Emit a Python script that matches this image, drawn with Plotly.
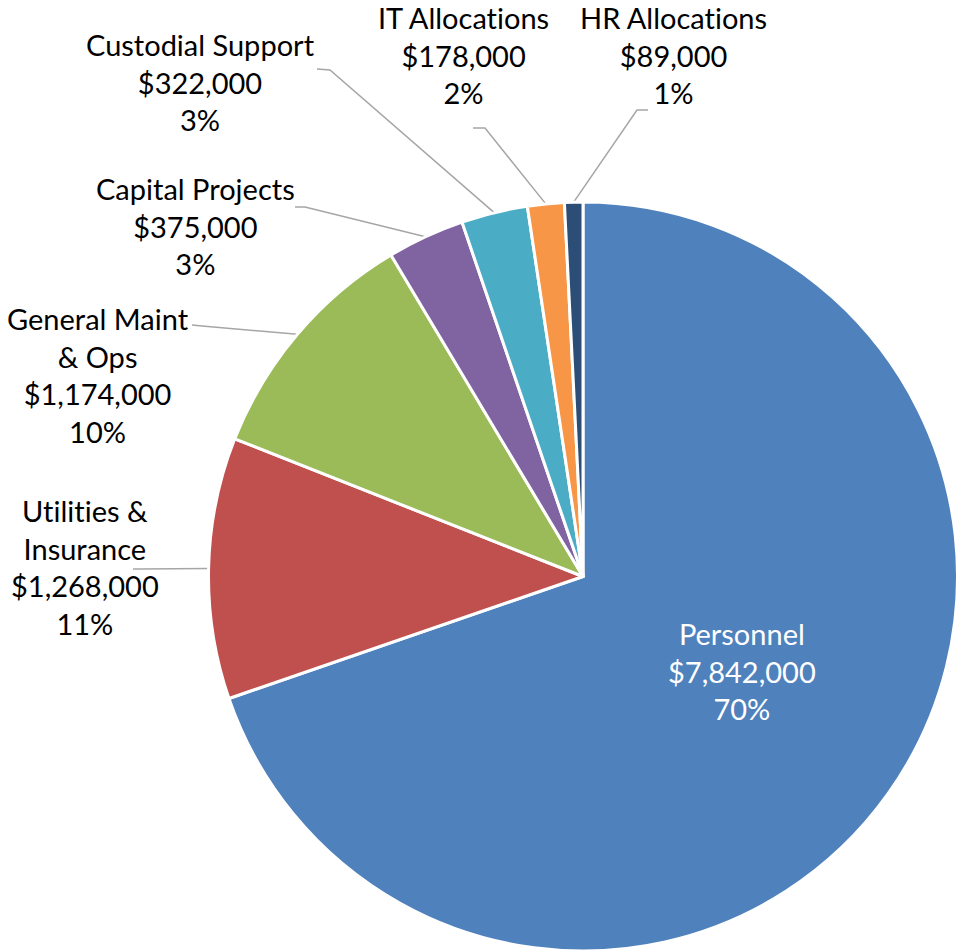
import numpy as np
import plotly.graph_objects as go

# ---- data ----
categories = ["Personnel", "Utilities & Insurance", "General Maint & Ops",
              "Capital Projects", "Custodial Support", "IT Allocations", "HR Allocations"]
label_text = ["Personnel", "Utilities &<br>Insurance", "General Maint<br>& Ops",
              "Capital Projects", "Custodial Support", "IT Allocations", "HR Allocations"]
values = [7842000, 1268000, 1174000, 375000, 322000, 178000, 89000]
colors = ["#4F81BD", "#C0504D", "#9BBB59", "#8064A2", "#4BACC6", "#F79646", "#2C4D75"]

# ---- layout constants (pixels) ----
W, H = 959, 951
CX, CY, R = 583, 577, 375
FONT = "Lato, Calibri, Carlito, sans-serif"
FS = 29

# label block centres
label_pos = {
    "Personnel": (742, 671),
    "Utilities & Insurance": (85, 567),
    "General Maint & Ops": (98, 375),
    "Capital Projects": (195, 226),
    "Custodial Support": (200, 82),
    "IT Allocations": (463, 55),
    "HR Allocations": (673, 55),
}
# leader line outer points (start, elbow); end point is computed from slice mid-angle
leader = {
    "Utilities & Insurance": [(133, 569), (140, 569)],
    "General Maint & Ops": [(192, 325), (202, 326)],
    "Capital Projects": [(295, 207), (305, 207)],
    "Custodial Support": [(317, 69), (330, 70)],
    "IT Allocations": [(473, 128), (485, 128)],
    "HR Allocations": [(648, 110), (637, 110)],
}

total = sum(values)
fracs = np.array(values) / total
cum = np.concatenate([[0], np.cumsum(fracs)])
mid_deg = (cum[:-1] + cum[1:]) / 2 * 360.0  # clockwise from 12 o'clock


def px(x, y):
    return x / W, 1 - y / H


def no_lig(s):
    # break the Lato "ti" ligature so text looks like the reference
    return s.replace("ti", "t\u200ci")


fig = go.Figure()
fig.add_trace(go.Pie(
    labels=categories,
    values=values,
    sort=False,
    direction="clockwise",
    rotation=0,
    marker=dict(colors=colors, line=dict(color="white", width=3)),
    textinfo="none",
    hoverinfo="skip",
    showlegend=False,
    domain=dict(x=[(CX - R) / W, min(1, (CX + R) / W)],
                y=[max(0, (H - CY - R) / H), (H - CY + R) / H]),
))

shapes = []
annotations = []
for i, cat in enumerate(categories):
    pct = round(fracs[i] * 100)
    txt = f"{no_lig(label_text[i])}<br>${values[i]:,}<br>{pct}%"
    lx, ly = label_pos[cat]
    ax, ay = px(lx, ly)
    annotations.append(dict(
        x=ax, y=ay, xref="paper", yref="paper", text=txt, showarrow=False,
        xanchor="center", yanchor="middle", align="center",
        font=dict(family=FONT, size=FS, color="white" if cat == "Personnel" else "#000000"),
    ))
    if cat in leader:
        ang = np.deg2rad(mid_deg[i])
        ex = CX + R * np.sin(ang)
        ey = CY - R * np.cos(ang)
        pts = leader[cat] + [(ex, ey)]
        path = "M " + " L ".join(f"{px(x, y)[0]:.5f},{px(x, y)[1]:.5f}" for x, y in pts)
        shapes.append(dict(type="path", path=path, xref="paper", yref="paper",
                           line=dict(color="#A6A6A6", width=1.5), layer="below"))

fig.update_layout(
    width=W, height=H,
    margin=dict(l=0, r=0, t=0, b=0),
    paper_bgcolor="white", plot_bgcolor="white",
    shapes=shapes, annotations=annotations,
    showlegend=False,
)
fig.write_html("out.html", config={"displayModeBar": False},
               post_script="document.body.style.margin='0px';document.body.style.overflow='hidden';")
